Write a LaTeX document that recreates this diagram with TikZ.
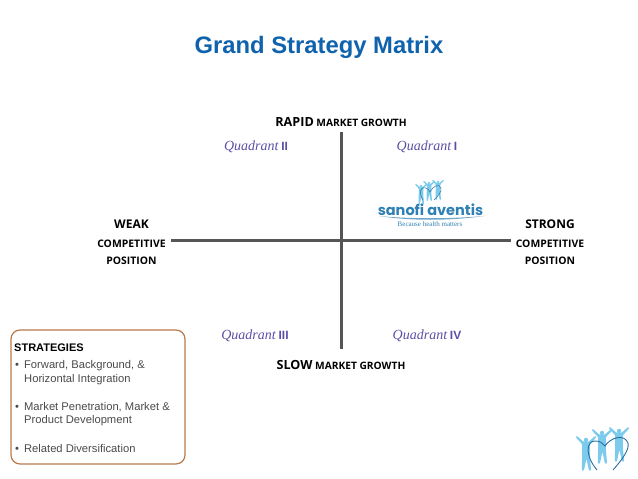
\documentclass[tikz,border=0pt]{standalone}
\usepackage{fontspec}
\usepackage{xcolor}
\setmainfont{Liberation Sans}
\newfontfamily\labelfont{Open Sans}
\newfontfamily\quadfont{Liberation Serif}
\newfontfamily\logofont{Poppins}
\definecolor{titleblue}{HTML}{0F62AC}
\definecolor{axisgrey}{HTML}{555555}
\definecolor{quadpurple}{HTML}{5A4FA6}
\definecolor{boxbrown}{HTML}{B87A4B}
\definecolor{bodygrey}{HTML}{4A4A4A}
\definecolor{logoblue}{HTML}{2F80B4}
\definecolor{peopleblue}{HTML}{7CCBEC}
\definecolor{heartblue}{HTML}{2C6E9E}
\newcommand{\growthlabel}[2]{{\fontsize{12.6}{14}\selectfont\bfseries #1} {\fontsize{10.2}{14}\selectfont\bfseries #2}}
\newcommand{\quadlabel}[1]{{\fontsize{14}{16}\selectfont\quadfont\itshape Quadrant} {\fontsize{12}{16}\selectfont\bfseries #1}}
\tikzset{
    axisline/.style={axisgrey, line width=3pt},
    maintitle/.style={font=\fontsize{23.8}{27}\selectfont\bfseries, text=titleblue},
    axislabel/.style={font=\labelfont, text=black, inner sep=0pt},
    sidesmall/.style={font=\labelfont\fontsize{10.4}{12}\selectfont\bfseries, text=black, inner sep=0pt},
    sidebig/.style={font=\labelfont\fontsize{12}{14}\selectfont\bfseries, text=black, inner sep=0pt},
    quadrant/.style={text=quadpurple, inner sep=0pt},
    strategybox/.style={draw=boxbrown, line width=1.2pt, rounded corners=9pt, minimum width=174pt, minimum height=134pt, inner sep=0pt},
    strategyhead/.style={font=\fontsize{11}{13}\selectfont\bfseries, text=black, anchor=west, inner sep=0pt},
    strategyline/.style={font=\fontsize{11.2}{13}\selectfont, text=bodygrey, anchor=west, inner sep=0pt},
    person/.pic={
        \fill[peopleblue] (0,0) circle (2.6);
        \fill[peopleblue, rounded corners=0.8pt] (-12,3) -- (-11,5) -- (-3,-2) -- (3,-2) -- (11,5) -- (12,3) -- (4.5,-5)
            -- (4.5,-18) -- (6,-36) -- (3.5,-36) -- (0.5,-22) -- (-2.5,-36) -- (-5,-36) -- (-4.5,-18) -- (-4.5,-5) -- cycle;
    },
}
\begin{document}
\begin{tikzpicture}[x=1pt,y=1pt]
    \useasboundingbox (0,-479) rectangle (638,0);
    \node[maintitle] (title) at (319,-47.5) {Grand Strategy Matrix};

    % Axes
    \coordinate (west) at (171,-240);
    \coordinate (east) at (511,-240);
    \coordinate (north) at (341,-132);
    \coordinate (south) at (341,-349);
    \draw[axisline] (west) -- (east);
    \draw[axisline] (north) -- (south);

    \node[axislabel] (rapid) at (341,-122.5) {\growthlabel{RAPID}{MARKET GROWTH}};
    \node[axislabel] (slow) at (341,-364.5) {\growthlabel{SLOW}{MARKET GROWTH}};
    \node[sidebig] (weak) at (131.5,-224.5) {WEAK};
    \node[sidesmall] (weakcomp) at (131.5,-243.5) {COMPETITIVE};
    \node[sidesmall] (weakpos) at (131.5,-260.5) {POSITION};
    \node[sidebig] (strong) at (550,-224.5) {STRONG};
    \node[sidesmall] (strongcomp) at (550,-243.5) {COMPETITIVE};
    \node[sidesmall] (strongpos) at (550,-260.5) {POSITION};

    \node[quadrant] (q2) at (256,-147) {\quadlabel{II}};
    \node[quadrant] (q1) at (427,-147) {\quadlabel{I}};
    \node[quadrant] (q3) at (255,-336) {\quadlabel{III}};
    \node[quadrant] (q4) at (427,-336) {\quadlabel{IV}};

    % Company logo
    \pic[scale=0.5] at (421,-186) {person};
    \pic[scale=0.5] at (429,-183) {person};
    \pic[scale=0.5] at (438,-182) {person};
    \draw[heartblue, line width=0.5pt] (423,-200) .. controls (418,-192) and (421,-186) .. (426,-188) .. controls (428,-189) and (429,-190) .. (430,-192)
        .. controls (433,-186) and (439,-183) .. (441,-188) .. controls (442,-192) and (438,-196) .. (434,-200);
    \node[inner sep=0pt, text=logoblue, font=\logofont\fontsize{14.5}{17}\selectfont\bfseries] (sanofi) at (430.5,-210) {sanofi aventis};
    \fill[logoblue!70] (379,-216) .. controls (410,-219) and (450,-219) .. (484,-216) .. controls (450,-221) and (410,-221) .. (379,-216) -- cycle;
    \node[inner sep=0pt, text=logoblue, font=\quadfont\fontsize{7}{8}\selectfont] (motto) at (430,-224) {Because health matters};

    % Strategies
    \node[strategybox] (box) at (98,-397) {};
    \node[strategyhead] (stratname) at (14,-348) {STRATEGIES};
    \node[strategyline] (s1) at (15,-366) {\textbullet\hspace{5pt}Forward, Background, \&};
    \node[strategyline] (s1b) at (24,-380) {Horizontal Integration};
    \node[strategyline] (s2) at (15,-407) {\textbullet\hspace{5pt}Market Penetration, Market \&};
    \node[strategyline] (s2b) at (24,-421) {Product Development};
    \node[strategyline] (s3) at (15,-448) {\textbullet\hspace{5pt}Related Diversification};

    % Corner logo
    \pic[scale=0.85] at (586,-440) {person};
    \pic[scale=0.85] at (602,-433) {person};
    \pic[scale=0.85] at (619,-431) {person};
    \draw[heartblue, line width=0.9pt] (597,-470) .. controls (585,-456) and (586,-441) .. (595,-441) .. controls (600,-441) and (603,-443) .. (605,-446)
        .. controls (610,-438) and (624,-433) .. (628,-443) .. controls (630,-450) and (620,-462) .. (613,-470);
\end{tikzpicture}
\end{document}
